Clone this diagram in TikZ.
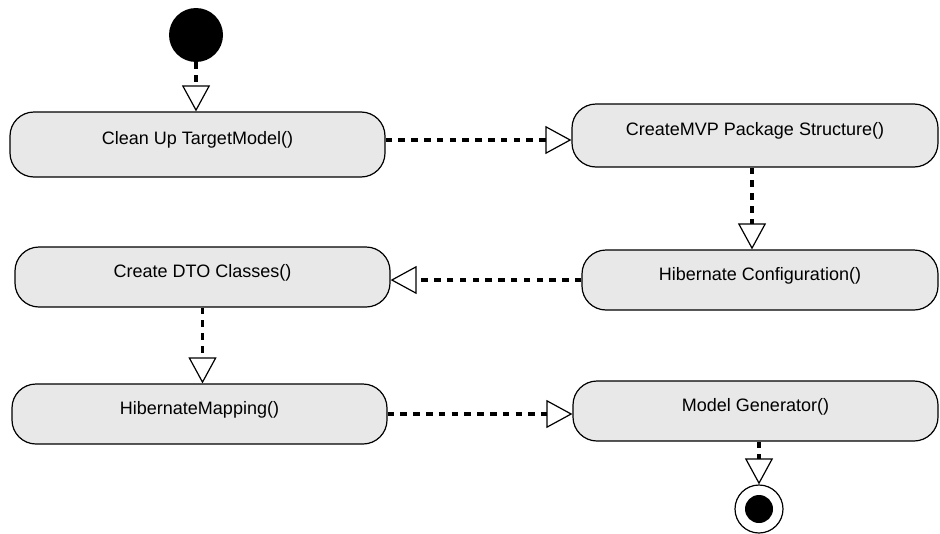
\documentclass[tikz,border=0pt]{standalone}
\usepackage{fontspec}
\setmainfont{Liberation Sans}
\usetikzlibrary{arrows.meta}
\begin{document}
\begin{tikzpicture}[x=1pt,y=-1pt]
\tikzstyle{every node}+=[inner sep=0pt]
\tikzstyle{activity}=[draw=black, line width=1.2pt, fill=black!9, rounded corners=24pt, text height=13pt, text depth=13pt, font=\fontsize{18}{20}\selectfont]
\tikzstyle{flow}=[black, line width=3.5pt, dash pattern=on 6.5pt off 6.3pt, -{Triangle[open, length=26pt, width=28pt, line width=1.2pt]}]
\useasboundingbox (0,0) rectangle (940,533);
\node [circle, fill=black, minimum size=54pt] (start) at (196,35) {};
\node [activity, minimum width=375pt, minimum height=65pt] (clean) at (197.5,144.5) {Clean Up TargetModel()};
\node [activity, minimum width=366pt, minimum height=63pt] (mvp) at (755,135.5) {CreateMVP Package Structure()};
\node [activity, minimum width=356pt, minimum height=60pt] (config) at (760,280) {Hibernate Configuration()};
\node [activity, minimum width=375pt, minimum height=60pt] (dto) at (202.5,277) {Create DTO Classes()};
\node [activity, minimum width=375pt, minimum height=60pt] (mapping) at (199.5,414) {HibernateMapping()};
\node [activity, minimum width=365pt, minimum height=60pt] (model) at (755.5,411) {Model Generator()};
\node [circle, draw=black, line width=1.2pt, minimum size=48pt] (stop) at (759,509) {};
\fill [black] (stop.center) circle (14pt);
\draw [flow] (start) -- (start |- clean.north);
\draw [flow] ([yshift=4.5pt]clean.east) -- ([yshift=4.5pt]clean.east -| mvp.west);
\draw [flow] ([xshift=-3pt]mvp.south) -- ([xshift=-3pt]mvp.south |- config.north);
\draw [flow] (config.west) -- (config.west -| dto.east);
\draw [flow] (dto.south) -- (dto.south |- mapping.north);
\draw [flow] (mapping.east) -- (mapping.east -| model.west);
\draw [flow] (stop |- model.south) -- (stop.north);
\end{tikzpicture}
\end{document}
